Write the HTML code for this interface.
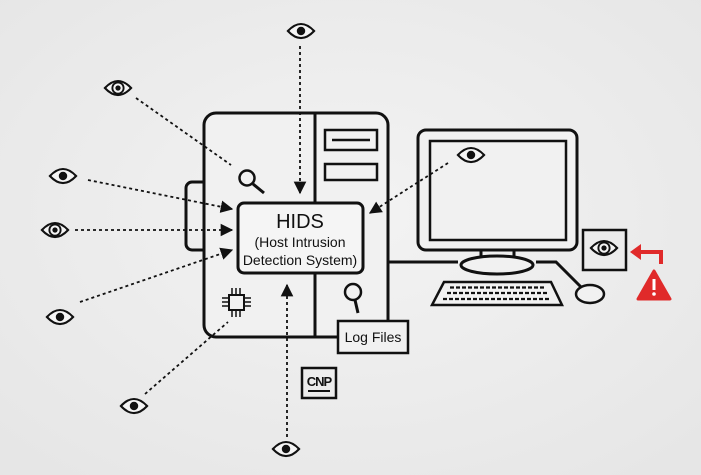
<!DOCTYPE html>
<html><head><style>html,body{margin:0;padding:0;background:#ebebeb;}svg{display:block}</style></head>
<body>
<svg width="701" height="475" viewBox="0 0 701 475" xmlns="http://www.w3.org/2000/svg" font-family="Liberation Sans, sans-serif">
<defs>
<radialGradient id="bg" cx="50%" cy="45%" r="70%"><stop offset="0" stop-color="#f3f3f3"/><stop offset="1" stop-color="#e6e6e6"/></radialGradient>
<marker id="ah" viewBox="0 0 10 10" refX="9" refY="5" markerWidth="7" markerHeight="7" orient="auto"><path d="M0,0L10,5L0,10z" fill="#111"/></marker>
<symbol id="eye" viewBox="-16 -10 32 20" overflow="visible"><path d="M-14,0 Q0,-15 14,0 Q0,15 -14,0Z" fill="#f5f5f5" stroke="#111" stroke-width="2.2"/><circle r="4.5" fill="#111"/></symbol>
<symbol id="eye2" viewBox="-16 -10 32 20" overflow="visible"><path d="M-14,0 Q0,-15 14,0 Q0,15 -14,0Z" fill="#f5f5f5" stroke="#111" stroke-width="2.2"/><circle r="6" fill="none" stroke="#111" stroke-width="2"/><circle r="2.8" fill="#111"/></symbol>
</defs>
<rect width="701" height="475" fill="url(#bg)"/>
<g fill="none" stroke="#111" stroke-width="3">
<rect x="186" y="182" width="24" height="68" rx="6"/>
<rect x="204" y="113" width="184" height="224" rx="12" fill="#f1f1f1"/>
<line x1="315" y1="113" x2="315" y2="204"/>
<line x1="315" y1="273" x2="315" y2="337"/>
<rect x="325" y="130" width="52" height="20" stroke-width="2.5"/>
<line x1="332" y1="140" x2="370" y2="140" stroke-width="2.5"/>
<rect x="325" y="164" width="52" height="16" stroke-width="2.5"/>
<rect x="238" y="203" width="125" height="70" rx="6" fill="#f5f5f5"/>
<circle cx="247" cy="178" r="7.5" stroke-width="2.5"/><line x1="253" y1="184" x2="264" y2="193" stroke-width="3"/>
<circle cx="353" cy="292" r="8" stroke-width="2.5"/><line x1="355" y1="300" x2="358" y2="313" stroke-width="3"/>
<rect x="338" y="321" width="70" height="32" fill="#f1f1f1" stroke-width="2.5"/>
<rect x="229" y="295" width="15" height="15" stroke-width="2"/>
<g stroke-width="1.5"><path d="M222,298h6M222,302h6M222,306h6M245,298h6M245,302h6M245,306h6M232,288v6M236,288v6M240,288v6M232,311v6M236,311v6M240,311v6"/></g>
<rect x="302" y="368" width="34" height="30" stroke-width="2.5"/>
<line x1="308" y1="391" x2="330" y2="391" stroke-width="2"/>
<rect x="418" y="130" width="159" height="120" rx="8" fill="#f1f1f1"/>
<rect x="430" y="141" width="136" height="99" stroke-width="2.5"/>
<path d="M481,250v9M514,250v9" />
<path d="M388,262H458M536,262H556L582,288"/>
<ellipse cx="497" cy="265" rx="36" ry="9" fill="#f1f1f1"/>
<path d="M444,282H551L562,305H432Z" stroke-width="2.5" fill="#f1f1f1"/>
<g stroke-width="2.2" stroke-dasharray="4 2"><path d="M450,287.5h96M447,293h102M443,299h108"/></g>
<ellipse cx="590" cy="294" rx="14" ry="9" stroke-width="2.5" fill="#f1f1f1"/>
<rect x="583" y="230" width="43" height="40" stroke-width="2.5"/>
</g>
<text x="319" y="386" font-size="13" text-anchor="middle" fill="#111" font-weight="bold" letter-spacing="-1">CNP</text>
<text x="300" y="228" font-size="20" text-anchor="middle" fill="#111">HIDS</text>
<text x="300" y="247" font-size="14" text-anchor="middle" fill="#111">(Host Intrusion</text>
<text x="300" y="265" font-size="14" text-anchor="middle" fill="#111">Detection System)</text>
<text x="373" y="342" font-size="14" text-anchor="middle" fill="#111">Log Files</text>
<g stroke="#111" stroke-width="1.8" stroke-dasharray="3 3" fill="none">
<line x1="300" y1="46" x2="300" y2="193" marker-end="url(#ah)"/>
<line x1="136" y1="98" x2="231" y2="165"/>
<line x1="88" y1="180" x2="232" y2="209" marker-end="url(#ah)"/>
<line x1="75" y1="230" x2="232" y2="230" marker-end="url(#ah)"/>
<line x1="80" y1="302" x2="232" y2="250" marker-end="url(#ah)"/>
<line x1="145" y1="394" x2="228" y2="322"/>
<line x1="287" y1="437" x2="287" y2="285" marker-end="url(#ah)"/>
<line x1="448" y1="163" x2="370" y2="213" marker-end="url(#ah)"/>
</g>
<use href="#eye" x="286" y="21" width="30" height="20"/>
<use href="#eye2" x="103" y="78" width="30" height="20"/>
<use href="#eye" x="48" y="166" width="30" height="20"/>
<use href="#eye2" x="40" y="220" width="30" height="20"/>
<use href="#eye" x="45" y="307" width="30" height="20"/>
<use href="#eye" x="119" y="396" width="30" height="20"/>
<use href="#eye" x="271" y="439" width="30" height="20"/>
<use href="#eye" x="456" y="145" width="30" height="20"/>
<use href="#eye2" x="589" y="238" width="30" height="20"/>
<path d="M661,264V252H640" fill="none" stroke="#e02a2a" stroke-width="4"/>
<path d="M630,252L641,244V260Z" fill="#e02a2a"/>
<path d="M654,271L670,299H638Z" fill="#e02a2a" stroke="#e02a2a" stroke-width="3" stroke-linejoin="round"/>
<rect x="652.5" y="279" width="3" height="11" fill="#fff"/>
<circle cx="654" cy="294" r="1.8" fill="#fff"/>
</svg>
</body></html>
